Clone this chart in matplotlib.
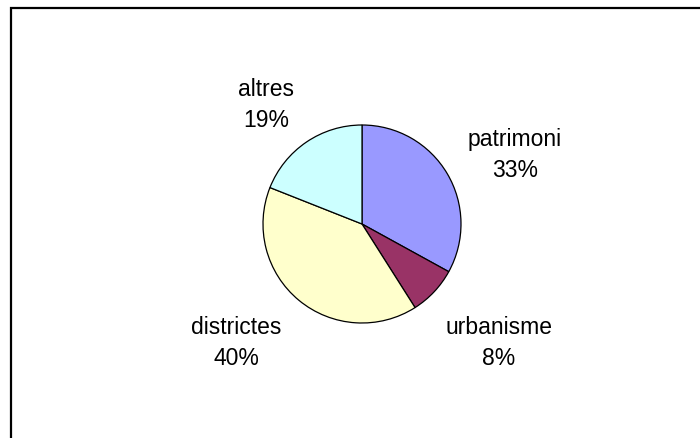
import matplotlib.pyplot as plt
from matplotlib.patches import Rectangle

plt.rcParams['font.family'] = ['Liberation Sans', 'DejaVu Sans']

# Data
labels = ['patrimoni', 'urbanisme', 'districtes', 'altres']
values = [33, 8, 40, 19]
colors = ['#9999FF', '#993366', '#FFFFCC', '#CCFFFF']

W, H = 700, 439
fig = plt.figure(figsize=(7, 4.39), dpi=100)
ax = fig.add_axes([0, 0, 1, 1])

# chart frame
ax.add_patch(Rectangle((11, -20), 720, H - 9 + 20, fill=False, edgecolor='black', linewidth=1.6))

cx, cy, r = 362, H - 225, 99
wedges, _ = ax.pie(values, colors=colors, startangle=90, counterclock=False,
                   center=(cx, cy), radius=r, frame=True,
                   wedgeprops=dict(edgecolor='black', linewidth=0.9))
ax.set_xlim(0, W)
ax.set_ylim(0, H)
ax.set_aspect('equal')
ax.axis('off')

# label positions (pixel coords, y from top)
label_pos = [(515, 155), (499, 343), (236, 343), (266, 105)]
for lab, v, (x, y) in zip(labels, values, label_pos):
    ax.text(x, H - y, f'{lab}\n{v}%', ha='center', va='center',
            fontsize=16.5, linespacing=1.4)

fig.savefig('out.png', dpi=100)
